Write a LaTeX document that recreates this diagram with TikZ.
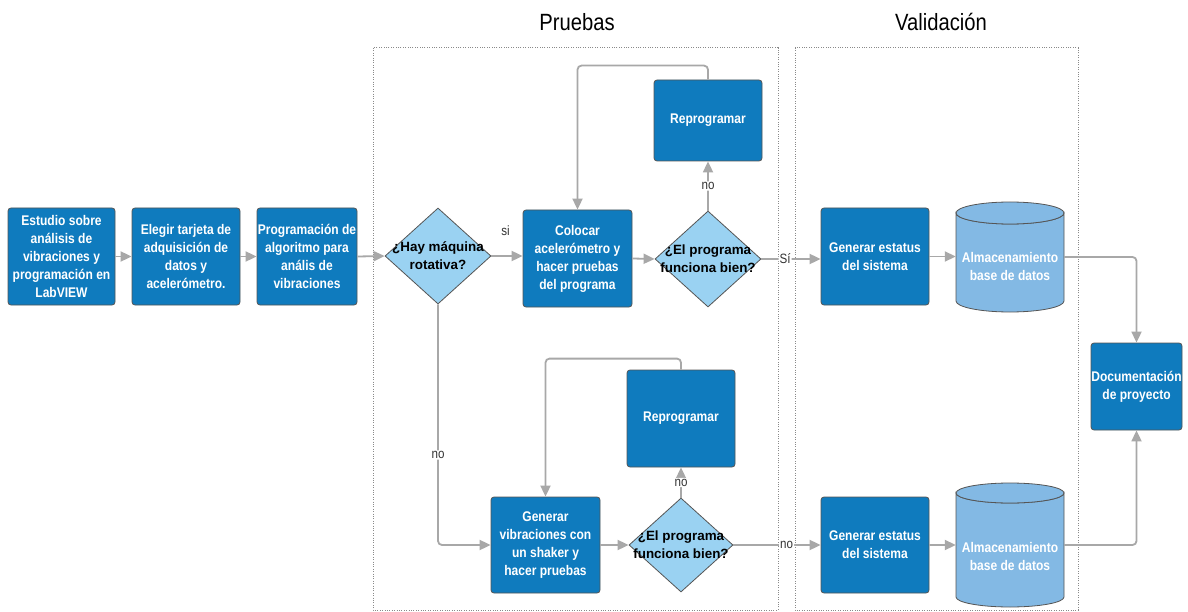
\documentclass[tikz,border=0pt]{standalone}
\usepackage{fontspec}
\setmainfont{Liberation Sans}
\newfontfamily\narrowfont[FakeStretch=0.86]{Liberation Sans}
\usetikzlibrary{shapes.geometric,arrows.meta}
\definecolor{boxblue}{HTML}{0F7BBE}
\definecolor{diablue}{HTML}{9AD2F2}
\definecolor{cylblue}{HTML}{83B9E4}
\definecolor{edgegray}{HTML}{555555}
\definecolor{arrowgray}{HTML}{A8A8A8}
\definecolor{framegray}{HTML}{8A8A8A}
\definecolor{labelgray}{HTML}{333333}
\tikzset{
  stepbox/.style={draw=edgegray, line width=0.8pt, fill=boxblue, rounded corners=3pt,
    inner sep=0pt, align=center, text=white,
    font=\narrowfont\bfseries\fontsize{14}{18}\selectfont},
  decision/.style={diamond, draw=edgegray, line width=0.8pt, fill=diablue, inner sep=0pt},
  decisiontext/.style={align=center, text=black, inner sep=0pt,
    font=\bfseries\fontsize{13.4}{18}\selectfont},
  store/.style={draw=edgegray, line width=0.8pt, fill=cylblue},
  storetext/.style={align=center, text=white, inner sep=0pt,
    font=\narrowfont\bfseries\fontsize{14}{18}\selectfont},
  anchorbox/.style={inner sep=0pt, minimum width=108pt},
  flow/.style={draw=arrowgray, line width=1.8pt, rounded corners=4pt,
    -{Triangle[length=11pt,width=10pt]}},
  lbl/.style={fill=white, inner sep=1pt, text=labelgray,
    font=\narrowfont\fontsize{13.5}{15}\selectfont},
  lblfree/.style={inner sep=1pt, text=labelgray,
    font=\narrowfont\fontsize{13.5}{15}\selectfont},
  lane/.style={draw=framegray, line width=1pt, dash pattern=on 1pt off 1.4pt},
  lanetitle/.style={inner sep=0pt, text=black,
    font=\narrowfont\fontsize{23.5}{26}\selectfont}
}
\begin{document}
\begin{tikzpicture}[x=1pt,y=-1pt]
\useasboundingbox[fill=white] (0,0) rectangle (1188,612);

% swim lanes
\draw[lane] (373,48) rectangle (778,610);
\draw[lane] (795,48) rectangle (1078,610);
\node[lanetitle] (tpru) at (577,22) {Pruebas};
\node[lanetitle] (tval) at (941,22) {Validación};

% preparation steps
\node[stepbox, minimum width=107pt, minimum height=97pt] (b1) at (61.5,256.5)
  {Estudio sobre\\análisis de\\vibraciones y\\programación en\\LabVIEW};
\node[stepbox, minimum width=108pt, minimum height=97pt] (b2) at (186,256.5)
  {Elegir tarjeta de\\adquisición de\\datos y\\acelerómetro.};
\node[stepbox, minimum width=100pt, minimum height=97pt] (b3) at (307,256.5)
  {Programación de\\algoritmo para\\anális de\\vibraciones};

% tests
\node[decision, minimum width=106pt, minimum height=96pt] (d1) at (438,256) {};
\node[decisiontext] (d1t) at (d1) {¿Hay máquina\\rotativa?};
\node[stepbox, minimum width=109pt, minimum height=97pt] (col) at (577.5,258.5)
  {Colocar\\acelerómetro y\\hacer pruebas\\del programa};
\node[decision, minimum width=106pt, minimum height=96pt] (d2) at (708,259) {};
\node[decisiontext] (d2t) at (d2) {¿El programa\\funciona bien?};
\node[stepbox, minimum width=108pt, minimum height=81pt] (rp1) at (708,120.5) {Reprogramar};

\node[stepbox, minimum width=109pt, minimum height=96pt] (gv) at (545.5,545)
  {Generar\\vibraciones con\\un shaker y\\hacer pruebas};
\node[decision, minimum width=104pt, minimum height=94pt] (d3) at (681,545) {};
\node[decisiontext] (d3t) at (d3) {¿El programa\\funciona bien?};
\node[stepbox, minimum width=108pt, minimum height=97pt] (rp2) at (681,418.5) {Reprogramar};

% validation
\node[stepbox, minimum width=108pt, minimum height=97pt] (g1) at (875,256.5)
  {Generar estatus\\del sistema};
\node[stepbox, minimum width=108pt, minimum height=96pt] (g2) at (875,545)
  {Generar estatus\\del sistema};

\draw[store] (956,213) -- (956,301) arc[start angle=180, end angle=0, x radius=54, y radius=11]
  -- (1064,213) arc[start angle=0, end angle=180, x radius=54, y radius=11] -- cycle;
\draw[store] (1010,213) ellipse[x radius=54, y radius=11];
\node[anchorbox, minimum height=110pt] (c1) at (1010,257) {};
\node[storetext] (c1t) at (1010,266) {Almacenamiento\\base de datos};

\draw[store] (956,493) -- (956,597) arc[start angle=180, end angle=0, x radius=54, y radius=10]
  -- (1064,493) arc[start angle=0, end angle=180, x radius=54, y radius=10] -- cycle;
\draw[store] (1010,493) ellipse[x radius=54, y radius=10];
\node[anchorbox, minimum height=120pt] (c2) at (1010,545) {};
\node[storetext] (c2t) at (1010,556) {Almacenamiento\\base de datos};

\node[stepbox, minimum width=91pt, minimum height=87pt] (doc) at (1136.5,386.5)
  {Documentación\\de proyecto};

% connectors
\draw[flow] (b1.east) -- (b2.west);
\draw[flow] (b2.east) -- (b3.west);
\draw[flow] (b3.east) -- (d1.west);
\draw[flow] (d1.east) -- node[lblfree, pos=0.45, yshift=25pt] {si} (d1.east -| col.west);
\draw[flow] (col.east) -- (d2.west);
\draw[flow] (d2.north) -- node[lbl] {no} (rp1.south);
\draw[flow] (rp1.north) -- ++(0,-14) -| (col.north);
\draw[flow] (d2.east) -- node[lbl, pos=0.4] {Sí} (d2.east -| g1.west);
\draw[flow] (g1.east) -- (g1.east -| c1.west);
\draw[flow] (c1.east) -| (doc.north);

\draw[flow] (d1.south) |- node[lbl, pos=0.313] {no} (gv.west);
\draw[flow] (gv.east) -- (d3.west);
\draw[flow] (d3.north) -- node[lbl] {no} (rp2.south);
\draw[flow] (rp2.north) -- ++(0,-11) -| (gv.north);
\draw[flow] (d3.east) -- node[lbl, pos=0.61] {no} (g2.west);
\draw[flow] (g2.east) -- (c2.west);
\draw[flow] (c2.east) -| (doc.south);
\end{tikzpicture}
\end{document}
